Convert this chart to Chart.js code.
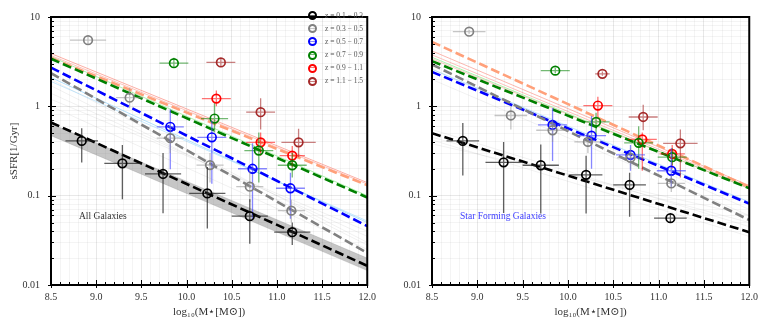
<!DOCTYPE html>
<html><head><meta charset="utf-8">
<script src="https://cdn.jsdelivr.net/npm/chart.js@4.4.1/dist/chart.umd.min.js"></script>
<style>
html,body{margin:0;padding:0;background:#fff;width:764px;height:327px;overflow:hidden}
#wrap{position:relative;width:764px;height:327px}
canvas{position:absolute;top:0}
#cL{left:0}
#cR{left:382px}
.lab{position:absolute;font-family:'Liberation Serif','DejaVu Serif',serif;white-space:nowrap;line-height:1}
.lg{position:absolute;font-family:'Liberation Serif','DejaVu Serif',serif;font-size:7.5px;color:#555;white-space:nowrap;line-height:1}
.mk{position:absolute;width:5px;height:5px;border-radius:50%;border:2px solid #000;box-sizing:content-box}
</style></head><body>
<div id="wrap">
<canvas id="cL" width="382" height="327"></canvas>
<canvas id="cR" width="382" height="327"></canvas>
<div class="lab" style="left:79px;top:212px;font-size:9.5px;color:#333">All Galaxies</div>
<div class="lab" style="left:460px;top:212px;font-size:9.5px;color:#4040ff">Star Forming Galaxies</div>
</div>
<script>
// ---------- DATA ----------
const seriesLabels = ['z = 0.1 \u2212 0.3','z = 0.3 \u2212 0.5','z = 0.5 \u2212 0.7','z = 0.7 \u2212 0.9','z = 0.9 \u2212 1.1','z = 1.1 \u2212 1.5'];
const seriesColors = ['#000000','#808080','#0000ff','#008000','#ff0000','#a52a2a'];
const errColors = ['rgba(40,40,40,0.75)','rgba(150,150,150,0.55)','rgba(70,70,255,0.65)','rgba(0,128,0,0.55)','rgba(255,0,0,0.55)','rgba(165,42,42,0.6)'];

const xTickLabels = ['8.5','9.0','9.5','10.0','10.5','11.0','11.5','12.0'];
const yTickLabels = ['0.01','0.1','1','10'];

// All galaxies panel
const allMass = [[8.84,9.29,9.74,10.23,10.70,11.17],[8.91,9.37,9.82,10.26,10.70,11.16],[9.82,10.28,10.73,11.15],[9.86,10.31,10.80,11.17],[10.33,10.82,11.17],[10.38,10.82,11.24]];
const allSSFR = [[0.41,0.23,0.175,0.106,0.059,0.039],[5.5,1.25,0.44,0.22,0.126,0.068],[0.59,0.45,0.20,0.121],[3.04,0.73,0.32,0.219],[1.22,0.395,0.281],[3.1,0.86,0.395]];
const allMassErr = [[0.18,0.2,0.2,0.2,0.2,0.2],[0.2,0.15,0.15,0.15,0.15,0.15],[0.15,0.16,0.16,0.16],[0.16,0.15,0.16,0.16],[0.16,0.16,0.14],[0.16,0.16,0.19]];
const allSSFRLo = [[0.235,0.091,0.0635,0.043,0.029,0.028],[5.0,0.95,0.3,0.14,0.085,0.05],[0.198,0.136,0.055,0.055],[2.7,0.51,0.14,0.16],[1.0,0.28,0.21],[2.8,0.55,0.27]];
const allSSFRHi = [[0.568,0.37,0.30,0.21,0.091,0.05],[6.0,1.6,0.6,0.3,0.19,0.09],[0.93,0.69,0.385,0.18],[3.5,1.08,0.51,0.3],[1.5,0.51,0.36],[3.4,1.23,0.56]];
const allFitStart = [0.66,2.35,2.71,3.41,3.47];
const allFitEnd = [0.0164,0.0229,0.0457,0.0955,0.131];
const allBandHi = [0.64,0.020];
const allBandLo = [0.47,0.0145];
const allSampleStart = [3.9,3.7,3.6,2.1,1.9,2.0,1.7,1.4,1.2,1.0];
const allSampleEnd = [0.14,0.135,0.10,0.05,0.052,0.03,0.028,0.035,0.04,0.025];
const allSampleColor = ['rgba(250,128,114,0.8)','rgba(250,128,114,0.6)','rgba(144,238,144,0.9)','rgba(135,206,250,0.8)','rgba(135,206,250,0.6)','rgba(0,0,0,0.08)','rgba(0,0,0,0.08)','rgba(0,0,0,0.08)','rgba(0,0,0,0.08)','rgba(0,0,0,0.08)'];

// Star forming panel
const sfMass = [[8.84,9.29,9.70,10.20,10.68,11.13],[8.91,9.37,9.83,10.22,10.69,11.14],[9.83,10.26,10.69,11.14],[9.86,10.31,10.78,11.15],[10.33,10.82,11.15],[10.38,10.83,11.24]];
const sfSSFR = [[0.41,0.236,0.219,0.171,0.132,0.056],[6.85,0.79,0.54,0.40,0.265,0.137],[0.62,0.47,0.286,0.19],[2.51,0.67,0.39,0.27],[1.02,0.426,0.293],[2.31,0.76,0.385]];
const sfMassErr = [[0.18,0.2,0.2,0.18,0.18,0.18],[0.18,0.18,0.18,0.15,0.15,0.15],[0.16,0.16,0.16,0.16],[0.16,0.15,0.16,0.16],[0.16,0.16,0.14],[0.08,0.16,0.19]];
const sfSSFRLo = [[0.168,0.064,0.063,0.063,0.058,0.05],[6.5,0.55,0.4,0.3,0.2,0.11],[0.245,0.2,0.19,0.126],[2.35,0.47,0.2,0.22],[0.75,0.19,0.2],[2.2,0.54,0.16]];
const sfSSFRHi = [[0.65,0.40,0.375,0.28,0.18,0.062],[7.2,1.0,0.7,0.5,0.34,0.17],[0.96,0.78,0.37,0.34],[2.7,0.85,0.6,0.34],[1.28,0.51,0.37],[2.45,1.04,0.55]];
const sfFitStart = [0.50,2.94,2.43,3.2,5.26];
const sfFitEnd = [0.039,0.0534,0.0815,0.121,0.125];
const sfSampleStart = [4.17,3.77,3.4,3.54,2.6,2.0,2.6,0.45,0.42,0.55,0.38];
const sfSampleEnd = [0.13,0.125,0.12,0.12,0.085,0.06,0.07,0.05,0.035,0.045,0.06];
const sfSampleColor = ['rgba(250,128,114,0.7)','rgba(250,128,114,0.6)','rgba(250,128,114,0.5)','rgba(144,238,144,0.9)','rgba(135,206,250,0.7)','rgba(0,0,0,0.07)','rgba(0,0,0,0.07)','rgba(0,0,0,0.07)','rgba(0,0,0,0.07)','rgba(0,0,0,0.07)','rgba(0,0,0,0.07)'];

const fitColors = ['#000000','#808080','#0000ff','#008000','#ffa07a'];
const xMin = 8.5, xMax = 12.0;

// ---------- CHART ----------
const FONT = "'Liberation Serif','DejaVu Serif',serif";
const xTickVals = [];
for (let i = 0; i <= 35; i++) xTickVals.push(Math.round((xMin + i * 0.1) * 10) / 10);
const yTickVals = [];
[0.01, 0.1, 1].forEach(d => { for (let m = 1; m <= 9; m++) yTickVals.push(Number((d * m).toPrecision(3))); });
yTickVals.push(10);

const isMajorX = v => xTickLabels.some(l => Math.abs(parseFloat(l) - v) < 1e-6);
const isMajorY = v => Math.abs(Math.log10(v) - Math.round(Math.log10(v))) < 1e-6;

const errorBars = {
  id: 'errorBars',
  beforeDatasetDraw(chart, args) {
    const ds = chart.data.datasets[args.index];
    if (!ds.errX) return;
    const { ctx, scales: { x, y } } = chart;
    ctx.save();
    ctx.strokeStyle = ds.errColor;
    ctx.lineWidth = 1.3;
    ds.data.forEach((p, i) => {
      const px = x.getPixelForValue(p.x), py = y.getPixelForValue(p.y);
      ctx.beginPath();
      ctx.moveTo(x.getPixelForValue(p.x - ds.errX[i]), py);
      ctx.lineTo(x.getPixelForValue(p.x + ds.errX[i]), py);
      ctx.moveTo(px, y.getPixelForValue(ds.errLo[i]));
      ctx.lineTo(px, y.getPixelForValue(ds.errHi[i]));
      ctx.stroke();
    });
    ctx.restore();
  }
};

const frameTicks = {
  id: 'frameTicks',
  afterDraw(chart) {
    const { ctx, chartArea: a, scales: { x, y } } = chart;
    ctx.save();
    ctx.strokeStyle = '#000';
    ctx.lineWidth = 1;
    x.ticks.forEach(t => {
      const px = Math.round(x.getPixelForValue(t.value)) + 0.5;
      const maj = isMajorX(t.value);
      ctx.beginPath();
      ctx.moveTo(px, a.bottom + (maj ? 3 : 0));
      ctx.lineTo(px, a.bottom - (maj ? 5 : 3));
      ctx.stroke();
    });
    y.ticks.forEach(t => {
      const py = Math.round(y.getPixelForValue(t.value)) + 0.5;
      const maj = isMajorY(t.value);
      ctx.beginPath();
      ctx.moveTo(a.left - (maj ? 3 : 0), py);
      ctx.lineTo(a.left + (maj ? 5 : 3), py);
      ctx.stroke();
    });
    ctx.lineWidth = 2;
    ctx.strokeRect(a.left, a.top, a.right - a.left, a.bottom - a.top);
    ctx.restore();
  }
};

function lineDs(y0, y1, color, width, dash, order) {
  return { type: 'line', data: [{ x: xMin, y: y0 }, { x: xMax, y: y1 }], borderColor: color,
    borderWidth: width, borderDash: dash, pointRadius: 0, fill: false, order: order, tension: 0 };
}

function makeChart(id, P, yAxisW, padRight, showTitle) {
  const datasets = [];
  for (let i = 0; i < P.mass.length; i++) {
    datasets.push({ type: 'scatter', label: seriesLabels[i],
      data: P.mass[i].map((m, j) => ({ x: m, y: P.ssfr[i][j] })),
      errX: P.mErr[i], errLo: P.lo[i], errHi: P.hi[i], errColor: errColors[i],
      pointRadius: 4.3, pointBorderWidth: 1.7, pointBorderColor: seriesColors[i],
      pointBackgroundColor: 'rgba(255,255,255,0)', showLine: false, order: 0 });
  }
  for (let i = 0; i < P.fitS.length; i++) datasets.push(lineDs(P.fitS[i], P.fitE[i], fitColors[i], 2.6, [9, 4], 1));
  for (let i = 0; i < P.sS.length; i++) datasets.push(lineDs(P.sS[i], P.sE[i], P.sC[i], 0.8, [], 2));
  if (P.bandHi) {
    datasets.push(lineDs(P.bandHi[0], P.bandHi[1], 'rgba(120,120,120,0.35)', 0.6, [], 3));
    const lo = lineDs(P.bandLo[0], P.bandLo[1], 'rgba(120,120,120,0.35)', 0.6, [], 3);
    lo.fill = '-1'; lo.backgroundColor = 'rgba(128,128,128,0.45)';
    datasets.push(lo);
  }
  return new Chart(document.getElementById(id), {
    type: 'scatter',
    data: { datasets },
    options: {
      responsive: false, animation: false, devicePixelRatio: 1,
      layout: { padding: { top: 8, right: padRight, left: 0, bottom: 0 } },
      plugins: { legend: { display: false }, tooltip: { enabled: false } },
      scales: {
        x: { type: 'linear', min: xMin, max: xMax,
          afterBuildTicks: s => { s.ticks = xTickVals.map(v => ({ value: v })); },
          afterFit: s => { s.height = 42; },
          ticks: { autoSkip: false, maxRotation: 0, padding: 6, color: '#333', font: { family: FONT, size: 10 },
            callback: v => { const l = xTickLabels.find(l => Math.abs(parseFloat(l) - v) < 1e-6); return l || ''; } },
          grid: { drawTicks: false, lineWidth: 1, color: c => (c.tick && isMajorX(c.tick.value)) ? 'rgba(0,0,0,0.09)' : 'rgba(0,0,0,0.045)' },
          border: { display: true, color: '#000', width: 2 },
          title: { display: true, text: 'log\u2081\u2080(M\u22C6[M\u2299])', color: '#333', font: { family: FONT, size: 11 }, padding: { top: 0, bottom: 8 } }
        },
        y: { type: 'logarithmic', min: 0.01, max: 10,
          afterBuildTicks: s => { s.ticks = yTickVals.map(v => ({ value: v })); },
          afterFit: s => { s.width = yAxisW; },
          ticks: { autoSkip: false, padding: 11, color: '#333', font: { family: FONT, size: 10 },
            callback: v => isMajorY(v) ? yTickLabels[Math.round(Math.log10(v)) + 2] : '' },
          grid: { drawTicks: false, lineWidth: 1, color: c => (c.tick && isMajorY(c.tick.value)) ? 'rgba(0,0,0,0.09)' : 'rgba(0,0,0,0.045)' },
          border: { display: true, color: '#000', width: 2 },
          title: { display: showTitle, text: 'sSFR[1/Gyr]', color: '#333', font: { family: FONT, size: 11 }, padding: { top: 8, bottom: 0 } }
        }
      }
    },
    plugins: [errorBars, frameTicks]
  });
}

makeChart('cL', { mass: allMass, ssfr: allSSFR, mErr: allMassErr, lo: allSSFRLo, hi: allSSFRHi,
  fitS: allFitStart, fitE: allFitEnd, sS: allSampleStart, sE: allSampleEnd, sC: allSampleColor,
  bandHi: allBandHi, bandLo: allBandLo }, 51, 13, true);
makeChart('cR', { mass: sfMass, ssfr: sfSSFR, mErr: sfMassErr, lo: sfSSFRLo, hi: sfSSFRHi,
  fitS: sfFitStart, fitE: sfFitEnd, sS: sfSampleStart, sE: sfSampleEnd, sC: sfSampleColor }, 50, 14, false);

// legend (inside left panel, top right)
const wrap = document.getElementById('wrap');
seriesLabels.forEach((lab, i) => {
  const cy = 15.7 + i * 13.1;
  const mk = document.createElement('div');
  mk.className = 'mk';
  mk.style.left = (312.7 - 4.5) + 'px';
  mk.style.top = (cy - 4.5) + 'px';
  mk.style.borderColor = seriesColors[i];
  mk.style.background = 'linear-gradient(' + errColors[i] + ',' + errColors[i] + ') center/100% 1.3px no-repeat';
  wrap.appendChild(mk);
  const t = document.createElement('div');
  t.className = 'lg';
  t.style.left = '325px';
  t.style.top = (cy - 4) + 'px';
  t.textContent = lab;
  wrap.appendChild(t);
});
</script>
</body></html>
